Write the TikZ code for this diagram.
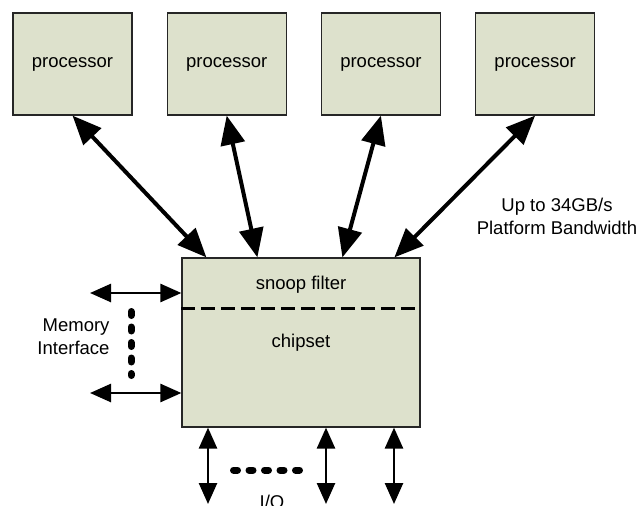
\documentclass[tikz,border=0pt]{standalone}
\usepackage{fontspec}
\setmainfont{Liberation Sans}
\usetikzlibrary{arrows.meta,positioning,calc}
\definecolor{boxfill}{RGB}{221,225,204}

\begin{document}
\begin{tikzpicture}[x=1pt,y=-1pt,node distance=34pt,
  every node/.style={font=\fontsize{18.5}{23}\selectfont},
  unit/.style={draw=black!85,line width=1.2pt,fill=boxfill,inner sep=0pt},
  cpu/.style={unit,minimum width=119pt,minimum height=102pt},
  bus/.style={{Triangle[length=29pt,width=24pt]}-{Triangle[length=29pt,width=24pt]},line width=4pt},
  link/.style={{Triangle[length=21pt,width=18pt]}-{Triangle[length=21pt,width=18pt]},line width=2.6pt},
  dots/.style={line width=7pt,line cap=round,dash pattern=on 4pt off 11.5pt}]
  \useasboundingbox (0,0) rectangle (641,506);

  % processors on top
  \node[cpu] (p1) at (72.5,64) {processor};
  \node[cpu,right=of p1] (p2) {processor};
  \node[cpu,right=of p2] (p3) {processor};
  \node[cpu,right=of p3] (p4) {processor};

  % chipset with the snoop filter band
  \node[unit,minimum width=238pt,minimum height=169pt] (chip) at (301,342.5) {chipset};
  \node (snoop) at ([yshift=-27pt]chip.north) {snoop filter};
  \draw[line width=3.5pt,dash pattern=on 14pt off 6pt]
    ([yshift=-51pt]chip.north west) -- ([yshift=-51pt]chip.north east);

  % front side buses
  \foreach \n/\dx in {1/25,2/76,3/161,4/213}
    \coordinate (t\n) at ([xshift=\dx pt]chip.north west);
  \foreach \n in {1,...,4}{
    \draw[bus] (p\n.south) -- (t\n);
  }
  \node[align=center] (bw) at (557,216) {Up to 34GB/s\\Platform Bandwidth};

  % memory channels
  \coordinate (m1) at (90,293);
  \coordinate (m2) at (90,393);
  \draw[link] (m1) -- (m1 -| chip.west);
  \draw[link] (m2) -- (m2 -| chip.west);
  \draw[dots] (131,311.5) -- (131,375.5);
  \node[align=right,anchor=east] (mem) at (113,336.5) {Memory\\Interface};

  % I/O links
  \foreach \n/\x in {1/208,2/326,3/394}{
    \coordinate (b\n) at (\x,504);
    \draw[link] (b\n |- chip.south) -- (b\n);
  }
  \draw[dots] (233.5,470) -- (300,470);
  \node[anchor=base] (io) at (272,508) {I/O};
\end{tikzpicture}
\end{document}
